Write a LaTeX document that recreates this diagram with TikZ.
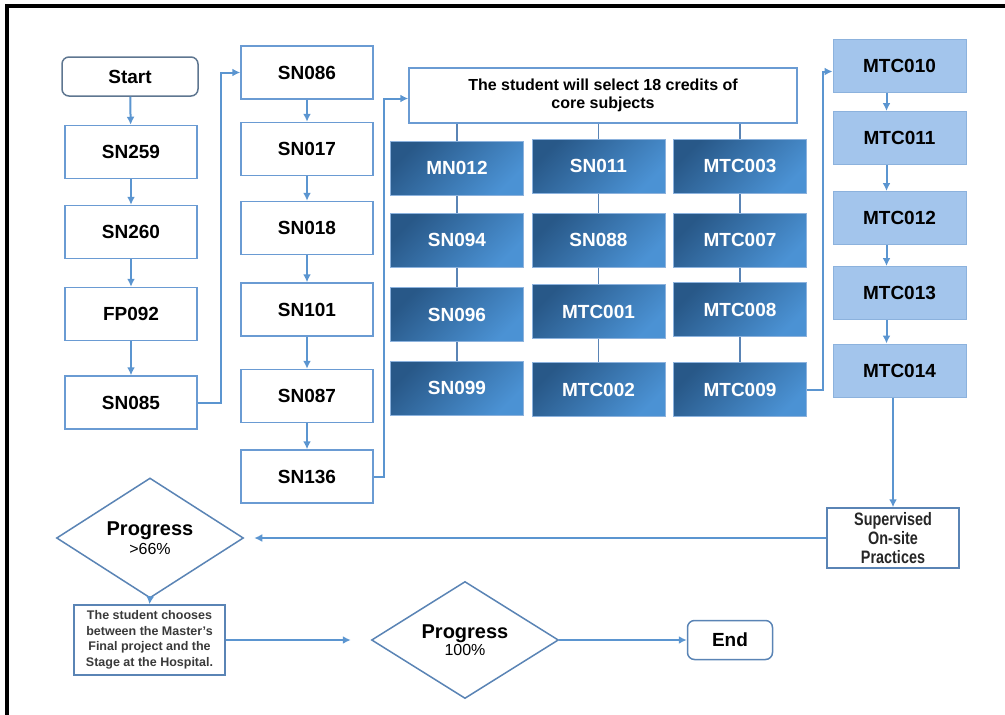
\documentclass[tikz,border=0pt]{standalone}
\usepackage{fontspec}
\setmainfont{Liberation Sans}
\newfontfamily\narrowfont[FakeStretch=0.8]{Liberation Sans}
\usetikzlibrary{shapes.geometric,arrows.meta}

\definecolor{boxline}{HTML}{6A9BD3}
\definecolor{flowblue}{HTML}{5B95D0}
\definecolor{darkA}{HTML}{285888}
\definecolor{darkB}{HTML}{4B92D4}
\definecolor{paleblue}{HTML}{A3C5EC}
\definecolor{paleline}{HTML}{8CB2DD}
\definecolor{slate}{HTML}{5E7690}
\definecolor{steel}{HTML}{5A84B5}
\definecolor{greytext}{HTML}{3A3A3A}

\tikzset{
  course/.style={draw=boxline, line width=1.5pt, fill=white, minimum width=132pt,
    minimum height=53pt, font=\fontsize{19}{23}\selectfont\bfseries},
  terminal/.style={draw=slate, line width=1.5pt, rounded corners=7pt, fill=white,
    font=\fontsize{19}{23}\selectfont\bfseries},
  elective/.style={draw=paleline, line width=1pt, top color=darkA, bottom color=darkB,
    shading angle=45, minimum width=133pt, minimum height=54pt, text=white,
    font=\fontsize{19}{23}\selectfont\bfseries},
  final/.style={draw=paleline, line width=1pt, fill=paleblue, minimum width=133pt,
    minimum height=53pt, font=\fontsize{19}{23}\selectfont\bfseries},
  decision/.style={diamond, draw=steel, line width=1.5pt, fill=white, minimum width=187pt,
    minimum height=101pt, inner sep=0pt, align=center},
  flow/.style={draw=flowblue, line width=2pt, -{Latex[length=8pt,width=8pt]}},
  link/.style={draw=steel, line width=1.5pt},
}

\begin{document}
\begin{tikzpicture}[x=1pt,y=-1pt]
  \useasboundingbox (0,0) rectangle (1005,715);
  \draw[line width=3.5pt] (7,715) -- (7,6) -- (1005,6);

  \node[terminal, minimum width=136pt, minimum height=39pt] (start) at (130,76.5) {Start};
  \node[course] (sn259) at (131,152) {SN259};
  \node[course] (sn260) at (131,232) {SN260};
  \node[course] (fp092) at (131,314) {FP092};
  \node[course] (sn085) at (131,402.5) {SN085};

  \node[course] (sn086) at (307,72.5) {SN086};
  \node[course] (sn017) at (307,149) {SN017};
  \node[course] (sn018) at (307,228) {SN018};
  \node[course] (sn101) at (307,309.5) {SN101};
  \node[course] (sn087) at (307,396) {SN087};
  \node[course] (sn136) at (307,476.5) {SN136};

  \node[course, minimum width=388pt, minimum height=55pt, align=center,
    font=\fontsize{16}{18}\selectfont\bfseries] (select) at (603,95.5)
    {The student will select 18 credits of\\core subjects};

  \node[elective] (mn012) at (457,168) {MN012};
  \node[elective] (sn011) at (598.5,166) {SN011};
  \node[elective] (mtc003) at (740,166) {MTC003};
  \node[elective] (sn094) at (457,240) {SN094};
  \node[elective] (sn088) at (598.5,240) {SN088};
  \node[elective] (mtc007) at (740,240) {MTC007};
  \node[elective] (sn096) at (457,314.5) {SN096};
  \node[elective] (mtc001) at (598.5,311.5) {MTC001};
  \node[elective] (mtc008) at (740,309.5) {MTC008};
  \node[elective] (sn099) at (457,388) {SN099};
  \node[elective] (mtc002) at (598.5,389.5) {MTC002};
  \node[elective] (mtc009) at (740,389.5) {MTC009};

  \node[final] (mtc010) at (899.5,65.5) {MTC010};
  \node[final] (mtc011) at (899.5,138) {MTC011};
  \node[final] (mtc012) at (899.5,218) {MTC012};
  \node[final] (mtc013) at (899.5,293) {MTC013};
  \node[final] (mtc014) at (899.5,370.5) {MTC014};

  \node[draw=steel, line width=1.5pt, minimum width=132pt, minimum height=60pt, align=center,
    font=\narrowfont\fontsize{18}{19}\selectfont\bfseries, text=black!85] (sup) at (893,538)
    {Supervised\\On-site\\Practices};

  \node[decision] (prog66) at (150,538)
    {{\fontsize{20}{22}\selectfont\bfseries Progress}\\[3pt]{\fontsize{16}{20}\selectfont >66\%}};
  \node[draw=steel, line width=1.5pt, minimum width=151pt, minimum height=70pt, align=center,
    font=\fontsize{12.5}{15.5}\selectfont\bfseries, text=greytext] (choose) at (149.5,640)
    {The student chooses\\between the Master's\\Final project and the\\Stage at the Hospital.};
  \node[decision] (prog100) at (465,640)
    {{\fontsize{20}{22}\selectfont\bfseries Progress}\\{\fontsize{16}{20}\selectfont 100\%}};
  \node[terminal, draw=steel, minimum width=85pt, minimum height=39pt] (stop) at (730,640) {End};

  \draw[flow] (start) -- (sn259);
  \draw[flow] (sn259) -- (sn260);
  \draw[flow] (sn260) -- (fp092);
  \draw[flow] (fp092) -- (sn085);
  \draw[flow] (sn085.east) -- ++(23,0) |- (sn086.west);

  \draw[flow] (sn086) -- (sn017);
  \draw[flow] (sn017) -- (sn018);
  \draw[flow] (sn018) -- (sn101);
  \draw[flow] (sn101) -- (sn087);
  \draw[flow] (sn087) -- (sn136);
  \draw[flow] (sn136.east) -- ++(10,0) |- ([yshift=-3pt]select.west);

  \draw[link] (select.south -| mn012) -- (mn012);
  \draw[link] (mn012) -- (sn094);
  \draw[link] (sn094) -- (sn096);
  \draw[link] (sn096) -- (sn099);
  \draw[link] (select.south -| sn011) -- (sn011);
  \draw[link] (sn011) -- (sn088);
  \draw[link] (sn088) -- (mtc001);
  \draw[link] (mtc001) -- (mtc002);
  \draw[link] (select.south -| mtc003) -- (mtc003);
  \draw[link] (mtc003) -- (mtc007);
  \draw[link] (mtc007) -- (mtc008);
  \draw[link] (mtc008) -- (mtc009);

  \draw[flow] (mtc009.east) -- ++(16,0) |- ([yshift=-6pt]mtc010.west);
  \draw[flow] ([xshift=-13pt]mtc010.south) -- ([xshift=-13pt]mtc011.north);
  \draw[flow] ([xshift=-13pt]mtc011.south) -- ([xshift=-13pt]mtc012.north);
  \draw[flow] ([xshift=-13pt]mtc012.south) -- ([xshift=-13pt]mtc013.north);
  \draw[flow] ([xshift=-13pt]mtc013.south) -- ([xshift=-13pt]mtc014.north);
  \draw[flow] (mtc014.south -| sup.north) -- (sup.north);

  \draw[flow, shorten >=10pt] (sup.west) -- (prog66.east);
  \draw[flow] (prog66.south) -- (choose.north);
  \draw[flow, shorten >=20pt] (choose.east) -- (prog100.west);
  \draw[flow] (prog100.east) -- (stop.west);
\end{tikzpicture}
\end{document}
